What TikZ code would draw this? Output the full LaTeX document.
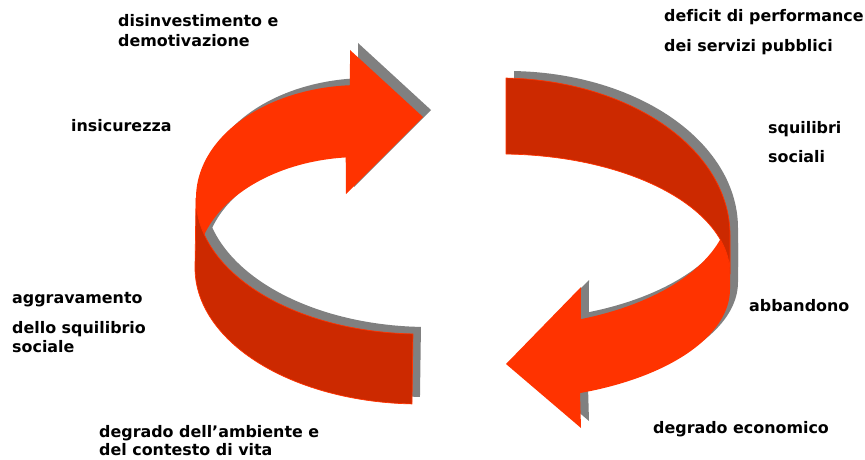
\documentclass[tikz,border=0pt]{standalone}
\usepackage{fontspec}
\setmainfont{DejaVu Sans}[Ligatures=NoCommon]
\definecolor{bright}{HTML}{FF3300}
\definecolor{dark}{HTML}{CC2900}
\definecolor{shade}{HTML}{808080}
\tikzset{
  LAback/.style={insert path={
    plot[domain=180:93.5,samples=60,variable=\t]({360+164*cos(\t)},{198-113*sin(\t)})
    -- (350,50) -- (423,117) -- (346,194)
    -- plot[domain=95:180,samples=60,variable=\t]({360+164*cos(\t)},{270-113*sin(\t)})
    -- cycle}},
  LAfront/.style={insert path={
    plot[domain=180:268.2,samples=60,variable=\t]({420+224*cos(\t)},{198-136*sin(\t)})
    -- plot[domain=268.2:180,samples=60,variable=\t]({419+224*cos(\t)},{268-136*sin(\t)})
    -- cycle}},
  RAfront/.style={insert path={
    (581,287) -- (506,364) -- (581,428) -- (580,393)
    -- plot[domain=69.6:0,samples=60,variable=\t]({500+230*cos(\t)},{289+111*sin(\t)})
    -- (730,250)
    -- plot[domain=12:69.4,samples=60,variable=\t]({500+230*cos(\t)},{204+123*sin(\t)})
    -- cycle}},
  RAback/.style={insert path={
    plot[domain=88.5:0,samples=60,variable=\t]({500+230*cos(\t)},{235-157*sin(\t)})
    -- (730,274)
    -- plot[domain=0:88.5,samples=60,variable=\t]({500+230*cos(\t)},{274-120*sin(\t)})
    -- cycle}},
  brightband/.style={fill=bright},
  darkband/.style={fill=dark, draw=bright, line width=0.7pt, line join=round},
  shadowband/.style={fill=shade},
  lbl/.style={anchor=base west, inner sep=0pt, text=black,
    font=\fontsize{15.9}{19}\selectfont\bfseries}
}
\begin{document}
\begin{tikzpicture}[x=1pt,y=-1pt]
\useasboundingbox (0,0) rectangle (865,460);
% shadows
\begin{scope}[shift={(8,-7)}]
  \path[shadowband, LAback];
  \path[shadowband, LAfront];
  \path[shadowband, RAfront];
  \path[shadowband, RAback];
\end{scope}
% left arrow
\path[brightband, LAback];
\path[darkband, LAfront];
% right arrow
\path[brightband, RAfront];
\path[darkband, RAback];
% labels
\node[lbl] (d1) at (118,27) {disinvestimento e};
\node[lbl] (d2) at (118,47) {demotivazione};
\node[lbl] (p1) at (664,22) {deficit di performance};
\node[lbl] (p2) at (664,52) {dei servizi pubblici};
\node[lbl] (s1) at (768,133) {squilibri};
\node[lbl] (s2) at (768,162) {sociali};
\node[lbl] (ab) at (749,311) {abbandono};
\node[lbl] (ec) at (653,433) {degrado economico};
\node[lbl] (in) at (71,131) {insicurezza};
\node[lbl] (ag1) at (12,303) {aggravamento};
\node[lbl] (ag2) at (12,333) {dello squilibrio};
\node[lbl] (ag3) at (12,352) {sociale};
\node[lbl] (am1) at (99,437) {degrado dell’ambiente e};
\node[lbl] (am2) at (99,455) {del contesto di vita};
\end{tikzpicture}
\end{document}
